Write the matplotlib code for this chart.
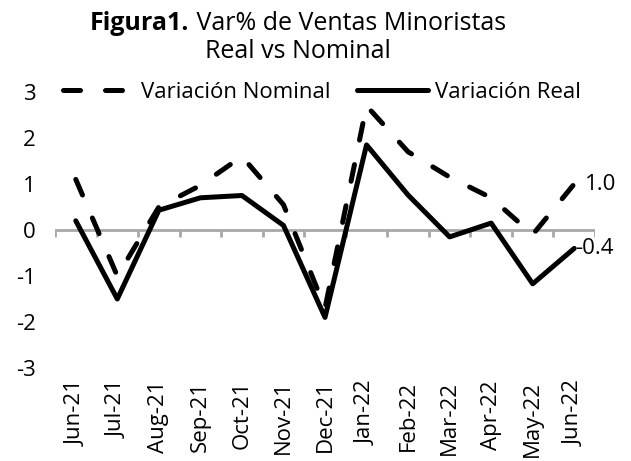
import matplotlib
matplotlib.use("Agg")
import matplotlib.pyplot as plt

plt.rcParams['font.family'] = ['Open Sans', 'DejaVu Sans']

categories = ["Jun-21", "Jul-21", "Aug-21", "Sep-21", "Oct-21", "Nov-21", "Dec-21",
              "Jan-22", "Feb-22", "Mar-22", "Apr-22", "May-22", "Jun-22"]
nominal = [1.1, -1.0, 0.5, 0.97, 1.6, 0.55, -1.7, 2.7, 1.7, 1.15, 0.7, -0.1, 1.0]
real = [0.2, -1.5, 0.43, 0.7, 0.75, 0.1, -1.9, 1.85, 0.76, -0.15, 0.15, -1.17, -0.4]
yticks = [-3, -2, -1, 0, 1, 2, 3]
ytick_labels = ["-3", "-2", "-1", "0", "1", "2", "3"]
last_labels = ["1.0", "-0.4"]

FS = 16
TFS = 18
W, H = 631, 461
fig = plt.figure(figsize=(W / 100, H / 100), dpi=100)
ax = fig.add_axes([55 / W, 1 - 368 / H, 540 / W, 276 / H])

x = list(range(len(categories)))

ax.set_xlim(-0.5, len(categories) - 0.5)
ax.set_ylim(-3, 3)

# zero line with boundary tick marks
bounds = [i - 0.5 for i in range(len(categories) + 1)]
ax.axhline(0, color='#a8a8a8', lw=2.0, zorder=2)
ax.vlines(bounds, -0.15, 0, colors='#a8a8a8', linewidths=2.0, zorder=2)

ax.plot(x, nominal, color='black', lw=3.6, dashes=(3.4, 5.0),
        dash_capstyle='round', solid_joinstyle='round', label='Variación Nominal', zorder=3)
ax.plot(x, real, color='black', lw=3.6, solid_capstyle='round',
        solid_joinstyle='round', label='Variación Real', zorder=3)

for s in ax.spines.values():
    s.set_visible(False)

ax.set_xticks(x)
ax.set_xticklabels(categories, rotation=90, fontsize=16)
ax.tick_params(axis='x', length=0, pad=9)
ax.set_yticks(yticks)
ax.set_yticklabels(ytick_labels, fontsize=FS)
ax.tick_params(axis='y', length=0, pad=14)

ax.annotate(last_labels[0], (x[-1], nominal[-1]), xytext=(8, 0), textcoords='offset points',
            ha='left', va='center', fontsize=FS)
ax.annotate(last_labels[1], (x[-1], real[-1]), xytext=(1, 0), textcoords='offset points',
            ha='left', va='center', fontsize=FS)

handles, labels = ax.get_legend_handles_labels()
leg = ax.legend(handles[-2:], labels[-2:], loc='center', bbox_to_anchor=(322 / W, 1 - 92 / H),
                bbox_transform=fig.transFigure,
                ncol=2, frameon=False, fontsize=FS, handlelength=3.2, handletextpad=0.3,
                columnspacing=1.2, borderpad=0, borderaxespad=0)

# title: bold part + regular part, centered
t1 = fig.text(0, 1 - 23 / H, "Figura1.", fontsize=TFS, fontweight='bold', va='center', ha='left')
t2 = fig.text(0, 1 - 23 / H, " Var% de Ventas Minoristas", fontsize=TFS, va='center', ha='left')
fig.text(298 / W, 1 - 52 / H, "Real vs Nominal", fontsize=TFS, va='center', ha='center')
fig.canvas.draw()
r = fig.canvas.get_renderer()
w1 = t1.get_window_extent(r).width
w2 = t2.get_window_extent(r).width
start = 298 - (w1 + w2) / 2
t1.set_x(start / W)
t2.set_x((start + w1) / W)

fig.savefig("out.png", dpi=100)
